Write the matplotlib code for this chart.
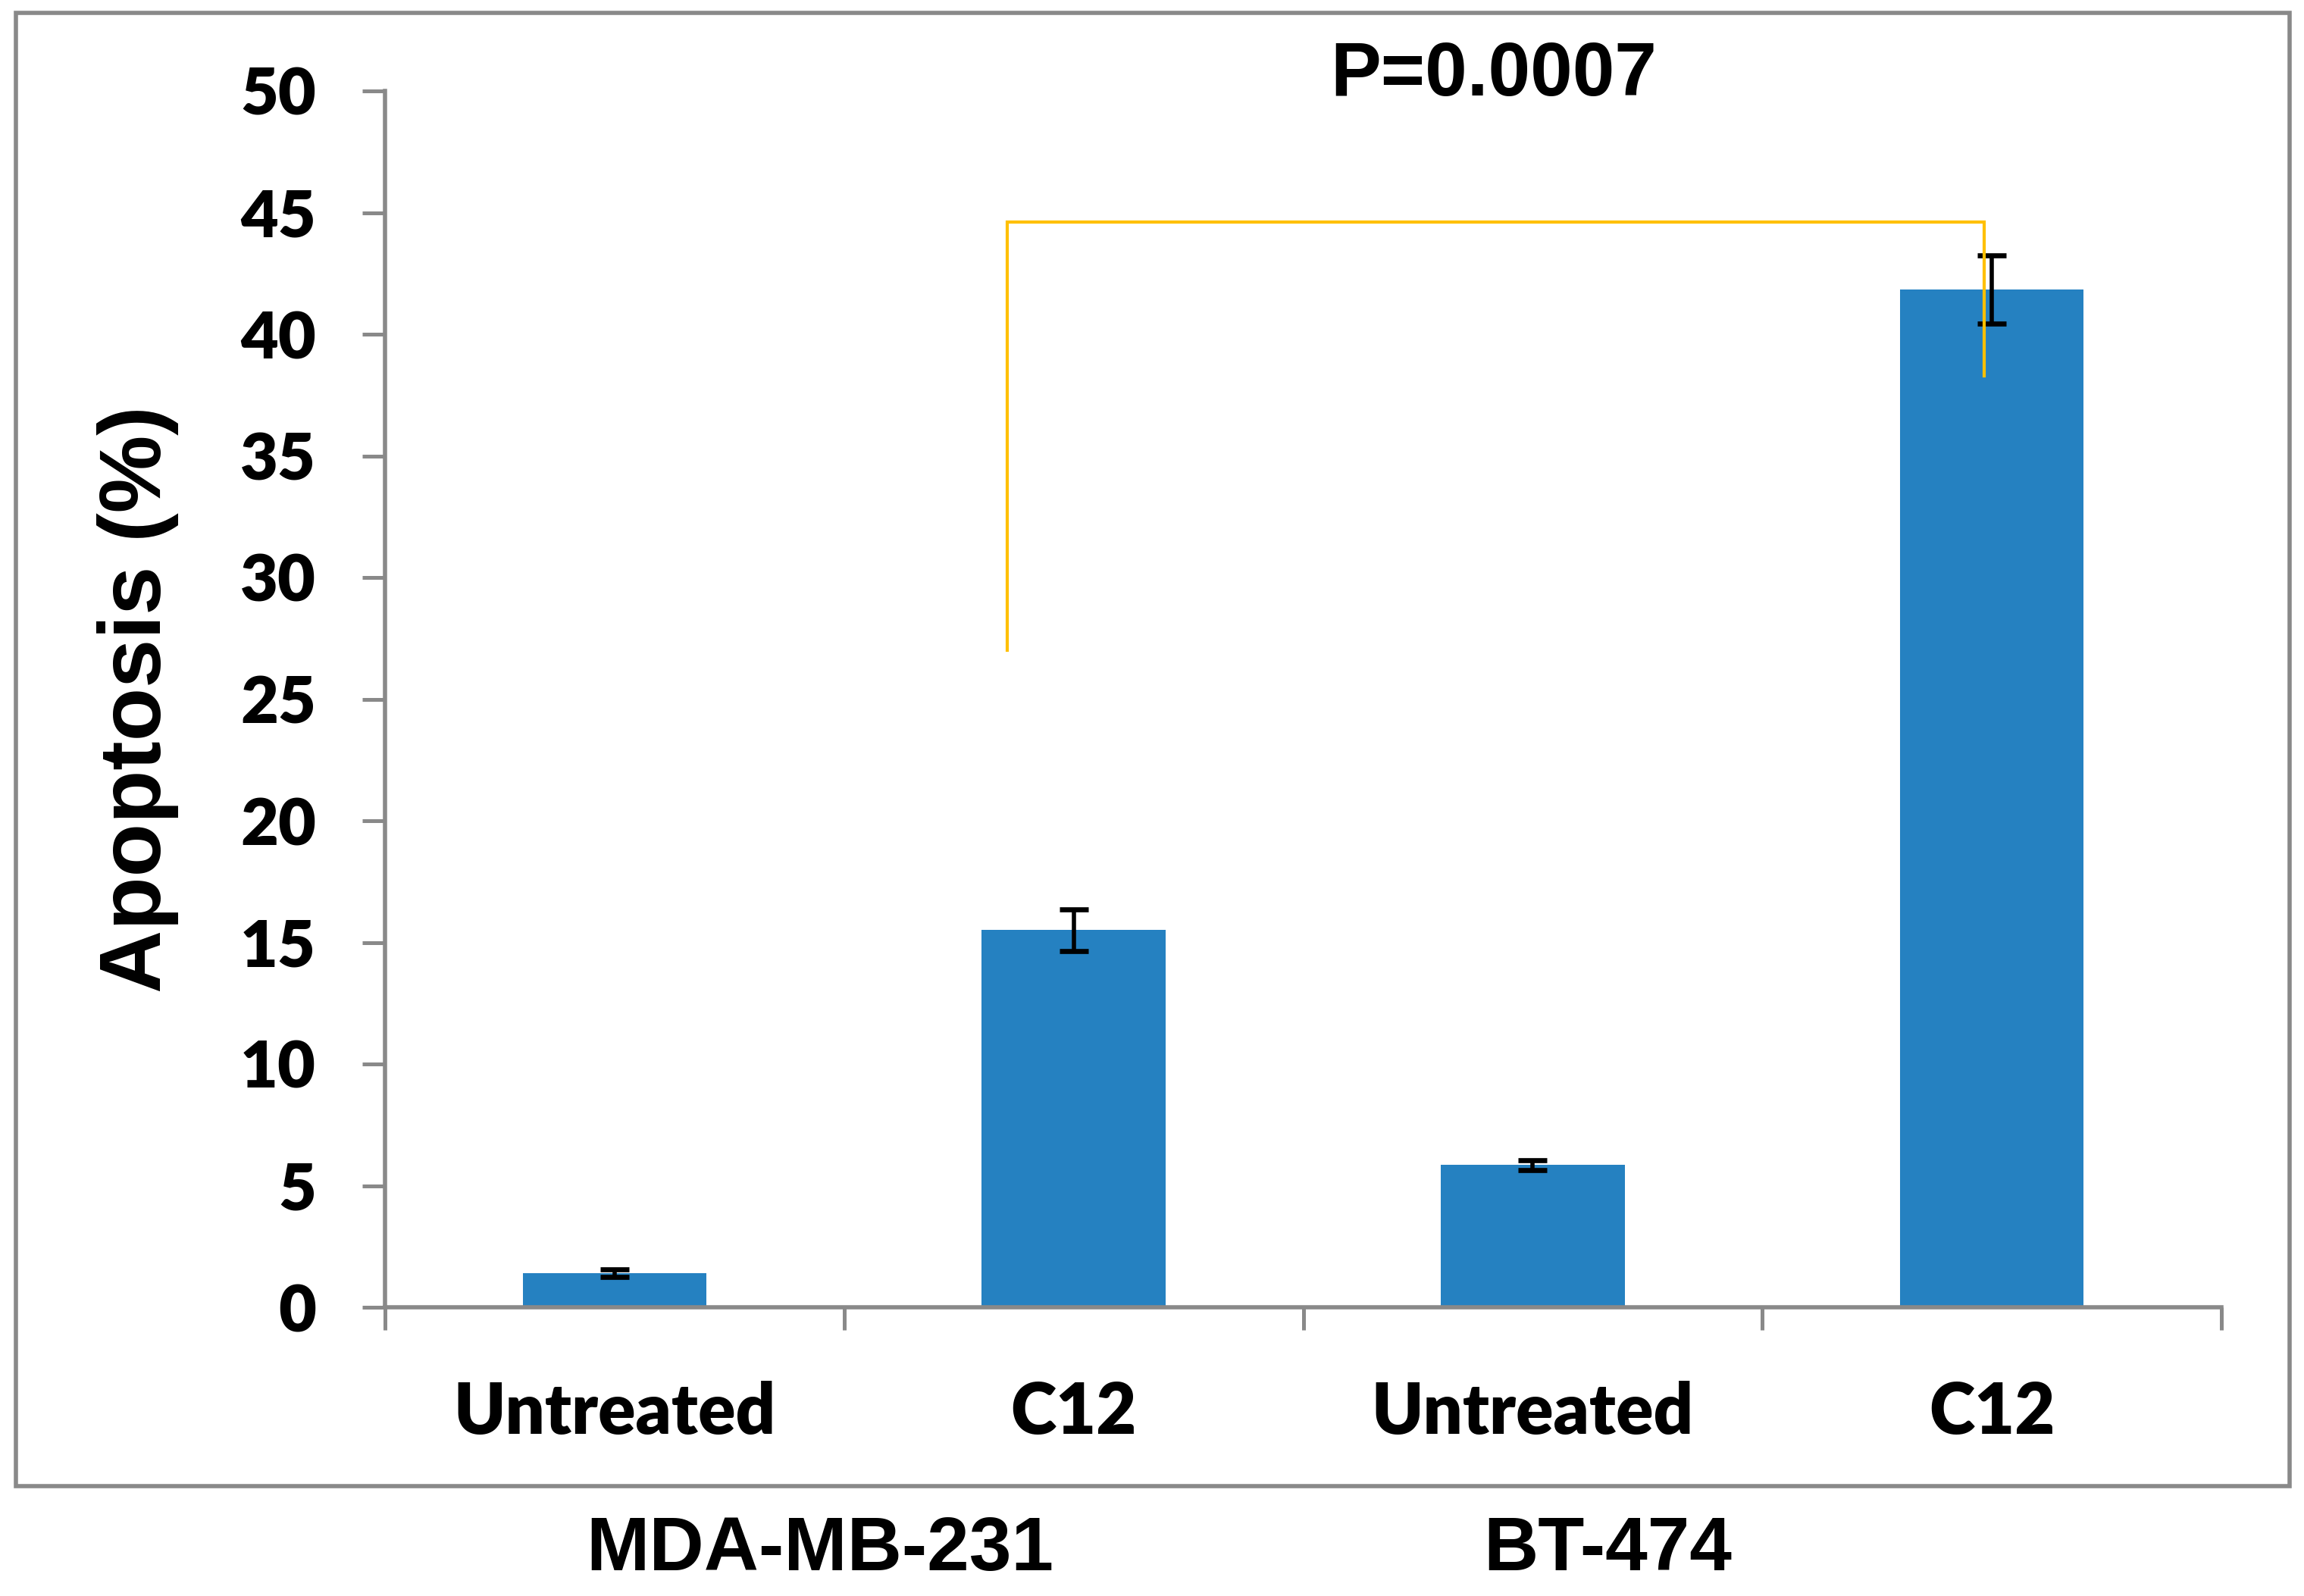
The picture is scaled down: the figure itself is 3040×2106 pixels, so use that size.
import matplotlib
matplotlib.use("Agg")
import matplotlib.pyplot as plt
from matplotlib.patches import Rectangle

# --- data ---
categories = ["Untreated", "C12", "Untreated", "C12"]
groups = ["MDA-MB-231", "BT-474"]
apoptosis = [1.4, 15.5, 5.85, 41.85]
errors = [0.15, 0.87, 0.2, 1.4]
yticks = [0, 5, 10, 15, 20, 25, 30, 35, 40, 45, 50]
p_label = "P=0.0007"
# significance bracket (x in category units, y in %)
bracket_x = [0.856, 0.856, 2.983, 2.983]
bracket_y = [27.0, 44.6, 44.6, 38.3]

BAR = "#2581c1"
GREY = "#898989"
TICK_FONT = ["Lato", "DejaVu Sans"]
LABEL_FONT = ["Liberation Sans", "DejaVu Sans"]

W, H, DPI = 3040, 2106, 200
fig = plt.figure(figsize=(W / DPI, H / DPI), dpi=DPI)
ax = fig.add_axes([508 / W, 1 - 1725 / H, (2931 - 508) / W, (1725 - 120) / H])

x = list(range(len(categories)))
ax.bar(x, apoptosis, width=0.4, color=BAR, zorder=2)
ax.errorbar(x, apoptosis, yerr=errors, fmt="none", ecolor="black",
            elinewidth=2.0, capsize=6.8, capthick=2.4, zorder=3)
ax.plot(bracket_x, bracket_y, color="#ffc000", lw=1.5, zorder=4,
        solid_joinstyle="miter")

ax.set_xlim(-0.5, len(categories) - 0.5)
ax.set_ylim(0, 50)
ax.set_yticks(yticks)
ax.set_yticklabels([str(v) for v in yticks])

# boundaries as major ticks, labels on minor ticks at centres
ax.set_xticks([i - 0.5 for i in range(len(categories) + 1)])
ax.set_xticklabels([])
ax.set_xticks(x, minor=True)
ax.set_xticklabels(categories, minor=True)
ax.tick_params(axis="x", which="minor", length=0, pad=35)
ax.tick_params(axis="x", which="major", length=10.8, width=1.8,
               color=GREY, direction="out")
ax.tick_params(axis="y", length=10.8, width=1.8, color=GREY,
               direction="out", pad=22)

for lab in ax.get_xticklabels(minor=True):
    lab.set_fontfamily(TICK_FONT)
    lab.set_fontweight("heavy")
    lab.set_fontsize(33)
for lab in ax.get_yticklabels():
    lab.set_fontfamily(TICK_FONT)
    lab.set_fontweight("heavy")
    lab.set_fontsize(31)

for side in ("top", "right"):
    ax.spines[side].set_visible(False)
for side in ("left", "bottom"):
    ax.spines[side].set_color(GREY)
    ax.spines[side].set_linewidth(2.0)

ax.set_ylabel("Apoptosis (%)", fontsize=41.5, fontweight="bold",
              family=LABEL_FONT, labelpad=0)
ax.yaxis.set_label_coords((236 - 508) / (2931 - 508), 0.5)

fig.text(1971 / W, 1 - 100 / H, p_label, ha="center", va="center",
         fontsize=36, fontweight="bold", family=LABEL_FONT)
for name, gx in zip(groups, [1082, 2121]):
    fig.text(gx / W, 1 - 2046 / H, name, ha="center", va="center",
             fontsize=36, fontweight="bold", family=LABEL_FONT)

# chart-area frame
fig.patches.append(Rectangle((21 / W, 1 - 1961 / H), (3021 - 21) / W,
                             (1961 - 17) / H, transform=fig.transFigure,
                             fill=False, edgecolor=GREY, lw=2.0))

fig.savefig("out.png", dpi=DPI, facecolor="white")
